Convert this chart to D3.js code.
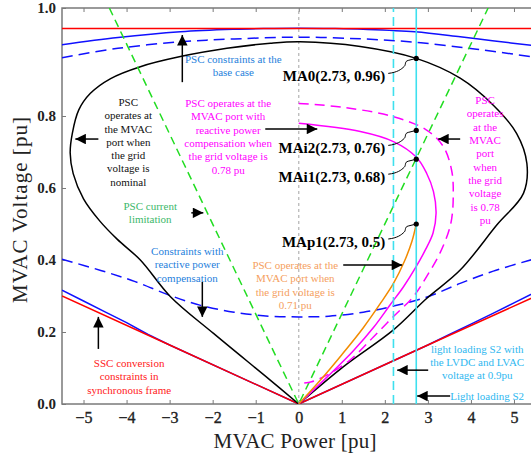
<!DOCTYPE html>
<html>
<head>
<meta charset="utf-8">
<script src="https://cdn.jsdelivr.net/npm/d3@7"></script>
<style>
  html, body { margin: 0; padding: 0; background: #fff; }
  svg { display: block; }
</style>
</head>
<body>
<svg id="chart" width="531" height="457"></svg>
<script>
// ---- axis ticks ----
const xTickValues = [-5, -4, -3, -2, -1, 0, 1, 2, 3, 4, 5];
const yTickValues = [0, 0.2, 0.4, 0.6, 0.8, 1.1];
const yTickLabels = ["0.0", "0.2", "0.4", "0.6", "0.8", "1.0"];

// ---- curves: [power, voltage] ----
const sscLimitTop = [[-5.5, 1.043], [0, 1.043], [5.5, 1.043]];
const sscLimitV = [[-5.5, 0.300], [-3, 0.164], [0, 0], [3, 0.164], [5.5, 0.299]];
const pscBaseTop = [[-5.5, 0.998], [-4.2, 1.018], [-2.75, 1.034], [-1.5, 1.041], [-0.8, 1.043], [0, 1.044],
  [0.8, 1.043], [1.5, 1.041], [2.7, 1.034], [3.75, 1.020], [4.5, 1.009], [5.5, 0.995]];
const pscBaseBottom = [[-5.5, 0.316], [-5, 0.286], [-4.5, 0.256], [-4, 0.226], [-3.5, 0.193], [-3, 0.164],
  [0, 0], [3, 0.164], [3.5, 0.193], [4, 0.222], [4.5, 0.251], [5, 0.281], [5.5, 0.311]];
const pscCompTop = [[-5.5, 0.962], [-4.2, 0.988], [-2.75, 1.006], [-1.5, 1.014], [0, 1.019],
  [1.5, 1.014], [2.7, 1.005], [3.75, 0.991], [4.5, 0.980], [5.5, 0.963]];
const pscCompBottom = [[-5.5, 0.402], [-4.6, 0.371], [-3.8, 0.340], [-3.0, 0.302], [-2.28, 0.274], [-1.5, 0.255],
  [-0.7, 0.244], [0, 0.242], [0.7, 0.244], [1.5, 0.255], [2.2, 0.272], [3.0, 0.298], [3.75, 0.335],
  [4.52, 0.369], [5.5, 0.404]];
const nominalGrid = [[0, 0], [-0.67, 0.067], [-1.98, 0.196], [-2.98, 0.298], [-3.68, 0.40], [-4.22, 0.458],
  [-4.62, 0.508], [-5.0, 0.57], [-5.24, 0.64], [-5.31, 0.697], [-5.26, 0.752], [-5.11, 0.817],
  [-4.84, 0.863], [-4.37, 0.904], [-3.68, 0.937], [-2.75, 0.965], [-1.67, 0.988], [-0.66, 1.002],
  [0.03, 1.006], [1.43, 0.993], [2.73, 0.96], [3.75, 0.905], [4.52, 0.83], [5.06, 0.752],
  [5.3, 0.668], [5.22, 0.585], [4.6, 0.497], [3.75, 0.372], [2.97, 0.293], [2.2, 0.206],
  [1.04, 0.104], [0, 0]];
const compGrid078 = [[0, 0.78], [1.43, 0.757], [2.2, 0.729], [2.73, 0.686], [2.97, 0.641], [3.13, 0.59],
  [3.19, 0.53], [3.12, 0.475], [2.95, 0.43], [2.72, 0.38], [2.43, 0.325], [2.12, 0.275], [1.74, 0.213],
  [1.27, 0.148], [0.65, 0.074], [0, 0]];
const grid078 = [[0, 0.835], [1.04, 0.824], [2.2, 0.798], [2.97, 0.761], [3.36, 0.715], [3.55, 0.65],
  [3.59, 0.585], [3.53, 0.5], [3.28, 0.419], [2.97, 0.354], [2.66, 0.298], [2.2, 0.243], [1.74, 0.187],
  [1.19, 0.122], [0.65, 0.08], [0.3, 0.062], [0, 0.057]];
const grid071 = [[0, 0], [0.5, 0.066], [1.0, 0.137], [1.5, 0.212], [1.9, 0.28], [2.2, 0.335],
  [2.45, 0.395], [2.63, 0.452], [2.73, 0.5]];
const currentLimit = [[-4.4, 1.1], [0, 0], [4.4, 1.1]];
const lightLoadS2 = 2.73;
const lightLoadS2Low = 2.2;

// ---- operating points ----
const pointNames = ["MA0", "MAi2", "MAi1", "MAp1"];
const pointPower = [2.73, 2.73, 2.73, 2.73];
const pointVoltage = [0.96, 0.76, 0.68, 0.5];

// ---- annotations ----
const noteTexts = [
  ["PSC constraints at the", "base case"],
  ["PSC", "operates at", "the MVAC", "port when", "the grid", "voltage is", "nominal"],
  ["PSC operates at the", "MVAC port with", "reactive power", "compensation when", "the grid voltage is", "0.78 pu"],
  ["PSC current", "limitation"],
  ["Constraints with", "reactive power", "compensation"],
  ["SSC conversion", "constraints in", "synchronous frame"],
  ["PSC operates at the", "MVAC port when", "the grid voltage is", "0.71 pu"],
  ["PSC", "operates", "at the", "MVAC", "port", "when", "the grid", "voltage", "is 0.78", "pu"],
  ["light loading S2 with", "the LVDC and LVAC", "voltage at 0.9pu"],
  ["Light loading S2"]
];
const noteX = [-1.52, -3.96, -1.64, -3.45, -2.59, -3.94, -0.08, 4.33, 4.145, 4.377];
const noteY = [0.947, 0.828, 0.825, 0.539, 0.414, 0.103, 0.375, 0.833, 0.142, 0.011];
const noteColors = ["#1f7fdc", "#111111", "#ff00ff", "#3cb86a", "#1f7fdc", "#ff2020", "#f5a060", "#ff00ff", "#2fb8f0", "#2fb8f0"];

// arrows: start and head positions in data units
const arrowFrom = [[-2.705, 0.894], [-4.655, 0.736], [-0.778, 0.764], [-2.496, 0.531], [-2.24, 0.339],
  [-4.655, 0.153], [1.033, 0.386], [3.75, 0.736], [3.007, 0.094], [3.517, 0.022]];
const arrowTo = [[-2.705, 1.025], [-5.19, 0.736], [0.43, 0.764], [-2.217, 0.531], [-2.24, 0.242],
  [-4.655, 0.242], [2.403, 0.386], [3.239, 0.736], [2.287, 0.094], [2.751, 0.022]];

// ---- layout ----
const svg = d3.select("#chart");
const plotLeft = 62, plotTop = 8, plotRight = 535.5, plotBottom = 404;
const x = d3.scaleLinear().domain([-5.5, 5.5]).range([plotLeft, plotRight]);
const y = d3.scaleLinear().domain([0, 1.1]).range([plotBottom, plotTop]);

const defs = svg.append("defs");
defs.append("clipPath").attr("id", "plotClip")
  .append("rect").attr("x", plotLeft).attr("y", plotTop)
  .attr("width", plotRight - plotLeft).attr("height", plotBottom - plotTop);
defs.append("marker").attr("id", "arrowHead")
  .attr("viewBox", "0 0 10 10").attr("refX", 10).attr("refY", 5)
  .attr("markerWidth", 13).attr("markerHeight", 10.5)
  .attr("markerUnits", "userSpaceOnUse").attr("orient", "auto")
  .append("path").attr("d", "M0,0 L10,5 L0,10 Z").attr("fill", "#000");

// axes (ticks pointing inward)
const axisColor = "#7a7a7a";
const gx = svg.append("g").attr("transform", `translate(0,${plotBottom})`)
  .call(d3.axisBottom(x).tickValues(xTickValues).tickSize(-4).tickPadding(8)
    .tickFormat(d => d < 0 ? "\u2212" + Math.abs(d) : String(d)));
gx.selectAll("text").attr("font-family", "Liberation Serif, serif").attr("font-size", 16)
  .attr("fill", "#222").attr("stroke", "#222").attr("stroke-width", 0.35);
const gt = svg.append("g").attr("transform", `translate(0,${plotTop})`)
  .call(d3.axisTop(x).tickValues(xTickValues).tickSize(-4).tickFormat(""));
const gy = svg.append("g").attr("transform", `translate(${plotLeft},0)`)
  .call(d3.axisLeft(y).tickValues(yTickValues).tickSize(-4).tickPadding(6)
    .tickFormat((d, i) => yTickLabels[i]));
gy.selectAll("text").attr("font-family", "Liberation Serif, serif").attr("font-size", 15)
  .attr("font-weight", "bold").attr("fill", "#222");
[gx, gt, gy].forEach(g => {
  g.select(".domain").remove();
  g.selectAll(".tick line").attr("stroke", axisColor).attr("stroke-width", 1);
});
svg.append("rect").attr("x", plotLeft).attr("y", plotTop)
  .attr("width", plotRight - plotLeft).attr("height", plotBottom - plotTop)
  .attr("fill", "none").attr("stroke", axisColor).attr("stroke-width", 1.5);

// axis titles
svg.append("text").attr("x", 295).attr("y", 448).attr("text-anchor", "middle")
  .attr("font-family", "Liberation Serif, serif").attr("font-size", 21).attr("fill", "#222")
  .attr("textLength", 163).attr("lengthAdjust", "spacing")
  .text("MVAC Power [pu]");
svg.append("text").attr("transform", "translate(27,210) rotate(-90)").attr("text-anchor", "middle")
  .attr("font-family", "Liberation Serif, serif").attr("font-size", 21).attr("fill", "#222")
  .attr("textLength", 186).attr("lengthAdjust", "spacing")
  .text("MVAC Voltage [pu]");

// curves
const plot = svg.append("g").attr("clip-path", "url(#plotClip)");
const smooth = d3.line().x(d => x(d[0])).y(d => y(d[1])).curve(d3.curveCatmullRom.alpha(0.5));
const straight = d3.line().x(d => x(d[0])).y(d => y(d[1]));

plot.append("line").attr("x1", x(0)).attr("x2", x(0)).attr("y1", y(0)).attr("y2", y(1.1))
  .attr("stroke", "#b8b8b8").attr("stroke-width", 1.3).attr("stroke-dasharray", "3,3");

function drawCurve(data, gen, color, dash, width) {
  plot.append("path").attr("d", gen(data)).attr("fill", "none")
    .attr("stroke", color).attr("stroke-width", width || 1.5)
    .attr("stroke-dasharray", dash || null);
}
drawCurve(pscBaseTop, smooth, "#1010ff");
drawCurve(sscLimitTop, straight, "#ff0000");
drawCurve(pscCompTop, smooth, "#1010ff", "11,6");
drawCurve(pscCompBottom, smooth, "#1010ff", "11,6");
drawCurve(pscBaseBottom, straight, "#1010ff");
drawCurve(sscLimitV, straight, "#ff0000");
drawCurve(nominalGrid, smooth, "#000000");
drawCurve(currentLimit, straight, "#22dd22", "8,5");
drawCurve(grid078, smooth, "#ff00ff", "10,6");
drawCurve(compGrid078, smooth, "#ff00ff");
drawCurve(grid071, smooth, "#f28b00");

plot.append("line").attr("x1", x(lightLoadS2Low)).attr("x2", x(lightLoadS2Low))
  .attr("y1", y(0)).attr("y2", y(1.1)).attr("stroke", "#3ee0ee").attr("stroke-width", 1.6)
  .attr("stroke-dasharray", "9,5");
plot.append("line").attr("x1", x(lightLoadS2)).attr("x2", x(lightLoadS2))
  .attr("y1", y(0)).attr("y2", y(1.1)).attr("stroke", "#3ee0ee").attr("stroke-width", 1.6);

// operating points with curly leaders
pointNames.forEach((name, i) => {
  const px = x(pointPower[i]), py = y(pointVoltage[i]);
  const sx = px - 28, sy = py + 15;
  svg.append("path")
    .attr("d", `M${sx},${sy} C${sx + 9},${sy - 1} ${sx + 13},${sy - 4} ${sx + 16},${sy - 7}` +
      ` C${sx + 18},${sy - 9} ${sx + 16},${sy - 12} ${sx + 20},${sy - 13} L${px},${py}`)
    .attr("fill", "none").attr("stroke", "#000").attr("stroke-width", 1);
  svg.append("circle").attr("cx", px).attr("cy", py).attr("r", 2.6).attr("fill", "#000");
  const label = `${name}(${pointPower[i]}, ${pointVoltage[i]})`;
  svg.append("text").attr("x", sx - 3).attr("y", py + 23).attr("text-anchor", "end")
    .attr("font-family", "Liberation Serif, serif").attr("font-weight", "bold").attr("font-size", 15)
    .attr("fill", "#000").text(label);
});

// annotation arrows
arrowFrom.forEach((a, i) => {
  svg.append("line").attr("x1", x(a[0])).attr("y1", y(a[1]))
    .attr("x2", x(arrowTo[i][0])).attr("y2", y(arrowTo[i][1]))
    .attr("stroke", "#000").attr("stroke-width", 1.5).attr("marker-end", "url(#arrowHead)");
});

// annotation texts
noteTexts.forEach((lines, i) => {
  const t = svg.append("text").attr("text-anchor", "middle")
    .attr("font-family", "Liberation Serif, serif").attr("font-size", 11)
    .attr("fill", noteColors[i]);
  lines.forEach((ln, j) => {
    t.append("tspan").attr("x", x(noteX[i])).attr("y", y(noteY[i]) + j * 13.3).text(ln);
  });
});
</script>
</body>
</html>
